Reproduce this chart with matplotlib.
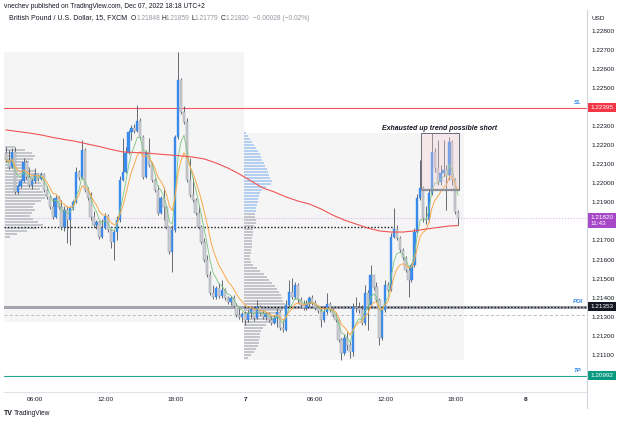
import matplotlib
matplotlib.use("Agg")
import matplotlib.pyplot as plt
import matplotlib.transforms as mtransforms
from matplotlib.patches import Rectangle
from matplotlib.lines import Line2D
import numpy as np
import pandas as pd

plt.rcParams['font.family'] = ['Liberation Sans', 'DejaVu Sans']

# ---------------- data (GBP/USD, 15 min, FXCM) ----------------
first_open = 1.22158
close = [
    1.22122, 1.22085, 1.22164, 1.21954, 1.21985, 1.22012, 1.22111, 1.22033, 1.21991, 1.22012,
    1.22048, 1.22022, 1.22048, 1.21964, 1.21928, 1.21875, 1.21823, 1.21923, 1.21875, 1.21771,
    1.21860, 1.21807, 1.21870, 1.21902, 1.22059, 1.22027, 1.22174, 1.21964, 1.21923, 1.21823,
    1.21781, 1.21797, 1.21718, 1.21765, 1.21828, 1.21755, 1.21692, 1.21744, 1.21807, 1.22017,
    1.22059, 1.22158, 1.22268, 1.22289, 1.22274, 1.22326, 1.22242, 1.22033, 1.22164, 1.22095,
    1.22017, 1.21964, 1.21844, 1.21923, 1.21875, 1.21771, 1.21640, 1.21755, 1.22242, 1.22541,
    1.22373, 1.22321, 1.22017, 1.21938, 1.21912, 1.21844, 1.21771, 1.21692, 1.21598, 1.21519,
    1.21425, 1.21404, 1.21451, 1.21409, 1.21440, 1.21398, 1.21378, 1.21398, 1.21357, 1.21309,
    1.21299, 1.21315, 1.21283, 1.21320, 1.21341, 1.21294, 1.21351, 1.21320, 1.21299, 1.21315,
    1.21283, 1.21268, 1.21294, 1.21325, 1.21241, 1.21231, 1.21362, 1.21430, 1.21404, 1.21467,
    1.21388, 1.21362, 1.21346, 1.21367, 1.21398, 1.21372, 1.21346, 1.21330, 1.21283, 1.21325,
    1.21367, 1.21336, 1.21309, 1.21283, 1.21178, 1.21110, 1.21189, 1.21152, 1.21116, 1.21351,
    1.21346, 1.21336, 1.21268, 1.21425, 1.21362, 1.21519, 1.21456, 1.21388, 1.21189, 1.21336,
    1.21467, 1.21440, 1.21718, 1.21760, 1.21713, 1.21650, 1.21608, 1.21545, 1.21493, 1.21571,
    1.21744, 1.21923, 1.21975, 1.21818, 1.21807, 1.21949, 1.22164, 1.22080, 1.22006, 1.22053,
    1.22069, 1.22043, 1.22216, 1.22017, 1.21848, 1.21820]
high = [
    1.22190, 1.22174, 1.22184, 1.22190, 1.21996, 1.22022, 1.22132, 1.22122, 1.22080, 1.22022,
    1.22080, 1.22053, 1.22059, 1.22053, 1.21985, 1.21938, 1.21923, 1.21938, 1.21933, 1.21912,
    1.21881, 1.21881, 1.21881, 1.21912, 1.22085, 1.22069, 1.22226, 1.22184, 1.21980, 1.21954,
    1.21854, 1.21807, 1.21802, 1.21812, 1.21844, 1.21839, 1.21760, 1.21755, 1.21828, 1.22038,
    1.22237, 1.22190, 1.22279, 1.22305, 1.22310, 1.22410, 1.22342, 1.22253, 1.22174, 1.22237,
    1.22111, 1.22027, 1.21991, 1.21933, 1.21980, 1.21886, 1.21776, 1.21781, 1.22253, 1.22688,
    1.22551, 1.22405, 1.22342, 1.22132, 1.22027, 1.21923, 1.21886, 1.21781, 1.21713, 1.21624,
    1.21540, 1.21467, 1.21461, 1.21477, 1.21493, 1.21451, 1.21409, 1.21409, 1.21414, 1.21372,
    1.21346, 1.21325, 1.21330, 1.21336, 1.21351, 1.21346, 1.21388, 1.21362, 1.21336, 1.21325,
    1.21325, 1.21304, 1.21309, 1.21346, 1.21336, 1.21283, 1.21388, 1.21493, 1.21503, 1.21482,
    1.21477, 1.21404, 1.21388, 1.21388, 1.21409, 1.21414, 1.21388, 1.21362, 1.21346, 1.21357,
    1.21425, 1.21378, 1.21346, 1.21325, 1.21294, 1.21189, 1.21210, 1.21220, 1.21168, 1.21372,
    1.21404, 1.21378, 1.21362, 1.21467, 1.21440, 1.21571, 1.21519, 1.21482, 1.21398, 1.21351,
    1.21493, 1.21482, 1.21739, 1.21870, 1.21781, 1.21723, 1.21661, 1.21619, 1.21566, 1.21582,
    1.21765, 1.21943, 1.22122, 1.21985, 1.21881, 1.21964, 1.22263, 1.22184, 1.22226, 1.22095,
    1.22226, 1.22095, 1.22242, 1.22226, 1.22027, 1.21859]
low = [
    1.22111, 1.22074, 1.22080, 1.21943, 1.21943, 1.21975, 1.22006, 1.22022, 1.21980, 1.21970,
    1.22001, 1.22012, 1.22017, 1.21954, 1.21917, 1.21865, 1.21812, 1.21818, 1.21865, 1.21755,
    1.21750, 1.21687, 1.21676, 1.21860, 1.21896, 1.22017, 1.22022, 1.21954, 1.21912, 1.21807,
    1.21771, 1.21760, 1.21708, 1.21713, 1.21760, 1.21744, 1.21661, 1.21598, 1.21702, 1.21797,
    1.22012, 1.22053, 1.22153, 1.22226, 1.22263, 1.22268, 1.22232, 1.22022, 1.22027, 1.22085,
    1.22006, 1.21954, 1.21833, 1.21839, 1.21807, 1.21760, 1.21629, 1.21535, 1.21744, 1.22232,
    1.22363, 1.22310, 1.22006, 1.21928, 1.21902, 1.21833, 1.21760, 1.21681, 1.21587, 1.21509,
    1.21414, 1.21393, 1.21393, 1.21398, 1.21398, 1.21388, 1.21367, 1.21362, 1.21346, 1.21299,
    1.21288, 1.21273, 1.21257, 1.21273, 1.21294, 1.21278, 1.21288, 1.21309, 1.21288, 1.21283,
    1.21273, 1.21257, 1.21262, 1.21247, 1.21231, 1.21220, 1.21226, 1.21351, 1.21393, 1.21393,
    1.21372, 1.21351, 1.21336, 1.21336, 1.21357, 1.21362, 1.21336, 1.21320, 1.21247, 1.21273,
    1.21315, 1.21325, 1.21299, 1.21273, 1.21168, 1.21074, 1.21100, 1.21126, 1.21084, 1.21095,
    1.21325, 1.21320, 1.21257, 1.21257, 1.21231, 1.21357, 1.21440, 1.21378, 1.21152, 1.21178,
    1.21325, 1.21430, 1.21435, 1.21713, 1.21702, 1.21640, 1.21598, 1.21535, 1.21404, 1.21482,
    1.21561, 1.21739, 1.21912, 1.21797, 1.21786, 1.21797, 1.21938, 1.22059, 1.21991, 1.21991,
    1.22038, 1.21860, 1.22017, 1.21991, 1.21839, 1.21779]

# long moving average (red), read hourly
ma_red_idx = list(range(0, 153, 4)) + [155]
ma_red = [1.22279, 1.22271, 1.22263, 1.22253, 1.22240, 1.22229, 1.22219, 1.22205, 1.22192, 1.22177,
          1.22164, 1.22161, 1.22158, 1.22153, 1.22148, 1.22143, 1.22137, 1.22127, 1.22106, 1.22080,
          1.22048, 1.22012, 1.21975, 1.21954, 1.21928, 1.21907, 1.21891, 1.21865, 1.21833, 1.21807,
          1.21786, 1.21765, 1.21750, 1.21744, 1.21744, 1.21750, 1.21760, 1.21768, 1.21776, 1.21778]

# session volume profiles (rows from top price downward)
vp1_top, vp1_bottom = 1.22190, 1.21718
vp1 = [10, 20, 27, 30, 28, 24, 22, 25, 30, 33, 35, 33, 36, 37, 35, 38, 42, 40, 36, 30,
       28, 30, 27, 25, 28, 33, 38, 32, 22, 12, 5]
vp2_top, vp2_bottom = 1.22263, 1.21084
vp2_up = [2, 4, 6, 8, 10, 12, 14, 16, 17, 18, 20, 21, 23, 24, 25, 26, 28, 27, 22, 18,
          16, 15, 14, 14, 13, 12, 12]
vp2_down = [11, 11, 12, 12, 10, 9, 9, 9, 8, 8, 8, 8, 7, 7, 6, 6, 7, 9, 13, 16,
            20, 23, 25, 28, 31, 33, 35, 37, 38, 39, 41, 42, 39, 37, 33, 29, 25, 22, 19, 17,
            16, 16, 15, 15, 14, 12, 10, 7, 4]

poc1 = 1.21770
poc2 = 1.21353
sl_level = 1.22395
tp_level = 1.20992
dashed_level = 1.21309
box_low = 1.21964
session2_start = 82

price_ticks = [1.211, 1.212, 1.213, 1.214, 1.215, 1.216, 1.217, 1.219, 1.220,
               1.221, 1.222, 1.223, 1.225, 1.226, 1.227, 1.228]
time_tick_bars = [10, 34, 58, 82, 106, 130, 154, 178]
time_tick_labels = ["06:00", "12:00", "18:00", "7", "06:00", "12:00", "18:00", "8"]

# ---------------- figure ----------------
W, H = 625, 423
fig = plt.figure(figsize=(W / 100, H / 100), dpi=100)
fig.patch.set_facecolor('white')
PL, PR, PT, PB = 4, 587, 10, 392
ax = fig.add_axes([PL / W, 1 - PB / H, (PR - PL) / W, (PB - PT) / H])
ax.set_facecolor('white')

close = np.array(close)
high = np.array(high)
low = np.array(low)
open_ = np.concatenate([[first_open], close[:-1]])
n = len(close)
x = np.arange(n)

XL, XR = -0.69, 199.18
ax.set_xlim(XL, XR)
ax.set_ylim(1.209059, 1.229076)
px_per_bar = 2.917

# session background boxes
s1h, s1l = high[:session2_start].max(), low[:session2_start].min()
s2h, s2l = high[session2_start:].max(), low[session2_start:].min()
b1 = session2_start - 0.5
ax.add_patch(Rectangle((XL, s1l), b1 - XL, s1h - s1l, fc='#f5f5f5', ec='none', zorder=0))
ax.add_patch(Rectangle((b1, s2l), n + 1.0 - b1, s2h - s2l, fc='#f5f5f5', ec='none', zorder=0))

# volume profiles
def draw_profile(vals, top, step, x0, color):
    for k, v in enumerate(vals):
        yc = top - k * step
        ax.barh(yc, v / px_per_bar, height=step * 0.78, left=x0, color=color,
                edgecolor='none', zorder=1)

step1 = (vp1_top - vp1_bottom) / (len(vp1) - 1)
draw_profile(vp1, vp1_top, step1, XL + 0.3, '#c4c6cc')
step2 = (vp2_top - vp2_bottom) / (len(vp2_up) + len(vp2_down) - 1)
draw_profile(vp2_up, vp2_top, step2, b1, '#b5cff3')
draw_profile(vp2_down, vp2_top - len(vp2_up) * step2, step2, b1, '#c4c6cc')

# horizontal levels
ax.axhline(sl_level, color='#f7525f', lw=0.8, zorder=2)
ax.axhline(tp_level, color='#22ab94', lw=0.8, zorder=2)
ax.axhline(poc2, color='#a3a6ae', lw=2.2, zorder=2)
ax.axhline(dashed_level, color='#b8bbc2', lw=0.7, ls=(0, (3, 2.5)), zorder=2)
ax.axhline(close[-1], color='#dcb3e6', lw=0.8, ls=(0, (1, 1.6)), zorder=2)
touch = session2_start + int(np.argmax(high[session2_start:] >= poc1))
ax.hlines(poc1, XL, touch, color='#131722', lw=1.0, ls=(0, (1, 1.4)), zorder=2)
ax.hlines(poc2, b1, XR, color='#131722', lw=1.0, ls=(0, (1, 1.4)), zorder=2)

# candles
up = close >= open_
bot = np.minimum(open_, close)
bh = np.maximum(np.abs(close - open_), 0.00003)
ax.vlines(x, low, high, color='#50535e', lw=0.6, zorder=3)
ax.bar(x[up], bh[up], bottom=bot[up], width=0.8, color='#3a8ef0',
       edgecolor='#2f7fe0', lw=0.25, zorder=4)
ax.bar(x[~up], bh[~up], bottom=bot[~up], width=0.8, color='#cbcdd2',
       edgecolor='#999ca5', lw=0.35, zorder=4)

# moving averages
cs = pd.Series(close)
ax.plot(x, cs.ewm(span=5, adjust=False).mean(), color='#7cc47f', lw=0.6, zorder=5)
ax.plot(x, cs.ewm(span=9, adjust=False).mean(), color='#f8a94a', lw=0.7, zorder=5)
ax.plot(ma_red_idx, ma_red, color='#f05454', lw=0.8, zorder=5)

# "exhausted" box and note
bx0, bx1 = 142.3, 155.3
ax.add_patch(Rectangle((bx0, box_low), bx1 - bx0, s2h - box_low, fc='#f2cfd6', alpha=0.35,
                       ec='none', zorder=6))
ax.add_patch(Rectangle((bx0, box_low), bx1 - bx0, s2h - box_low, fc='none',
                       ec='#6a6d78', lw=0.7, zorder=6))
ax.hlines(box_low, bx0, bx1, color='#8f9199', lw=1.6, zorder=6)
ax.text(148.8, 1.22289, "Exhausted up trend possible short", fontsize=5, fontweight='bold',
        style='italic', ha='center', va='center', color='#131722', zorder=7)

# level labels
for lvl, txt in [(sl_level, "SL"), (poc2, "POI"), (tp_level, "TP")]:
    ax.text(196.0, lvl + 0.00026, txt, fontsize=4.3, color='#2f86eb', style='italic',
            fontweight='bold', ha='center', va='center', zorder=7)

# axes styling
for s in ['top', 'left', 'right']:
    ax.spines[s].set_visible(False)
ax.spines['bottom'].set_color('#e0e3eb')
ax.spines['bottom'].set_linewidth(0.8)
ax.yaxis.tick_right()
ax.set_yticks(price_ticks)
ax.set_yticklabels([f"{p:.5f}" for p in price_ticks])
ax.tick_params(axis='y', length=0, pad=3.2, labelsize=4.6, labelcolor='#131722')
ax.set_xticks(time_tick_bars)
ax.set_xticklabels(time_tick_labels)
ax.tick_params(axis='x', length=0, pad=3.5, labelsize=4.6, labelcolor='#131722')
for lab in ax.get_xticklabels():
    if lab.get_text() in ("7", "8"):
        lab.set_fontweight('bold')

fig.add_artist(Line2D([PR / W, PR / W], [1 - 408 / H, 1 - PT / H], transform=fig.transFigure,
                      color='#d1d4dc', lw=0.8))

# price tags
trans = mtransforms.blended_transform_factory(ax.transAxes, ax.transData)
def tag(price, text, fc, ypos=None):
    ax.text(1.0 + 3.5 / (PR - PL), price if ypos is None else ypos, text, transform=trans,
            ha='left', va='center', fontsize=4.6, color='white', linespacing=1.15,
            bbox=dict(boxstyle='square,pad=0.32', fc=fc, ec='none'), clip_on=False, zorder=10)

tag(sl_level, f"{sl_level:.5f}", '#f23645')
tag(close[-1], f"{close[-1]:.5f}\n11:43", '#a748c9', ypos=close[-1] - 0.00017)
tag(poc2, f"{poc2:.5f}", '#131722')
tag(tp_level, f"{tp_level:.5f}", '#089981')

# header and footer texts
def ftext(px, py, s, **kw):
    fig.text(px / W, 1 - py / H, s, va='center', ha='left', **kw)

ftext(4, 6, "vnechev published on TradingView.com, Dec 07, 2022 18:18 UTC+2",
      fontsize=4.8, color='#131722')
ftext(9, 18, "British Pound / U.S. Dollar, 15, FXCM", fontsize=5.0, color='#131722')
for px, k, off, v in [(131, "O", 5.4, "1.21848"), (161, "H", 5.0, "1.21859"),
                      (191, "L", 4.0, "1.21779"), (221, "C", 5.0, "1.21820")]:
    ftext(px, 18, k, fontsize=4.8, color='#131722')
    ftext(px + off, 18, v, fontsize=4.8, color='#9598a1')
ftext(253, 18, "\u22120.00028 (\u22120.02%)", fontsize=4.8, color='#9598a1')
ftext(591, 18, "USD", fontsize=4.6, color='#131722')
ftext(4, 413, "TV", fontsize=5, color='#131722', fontweight='bold')
ftext(14, 413, "TradingView", fontsize=4.8, color='#131722')

fig.savefig("out.png", dpi=100, facecolor='white')
